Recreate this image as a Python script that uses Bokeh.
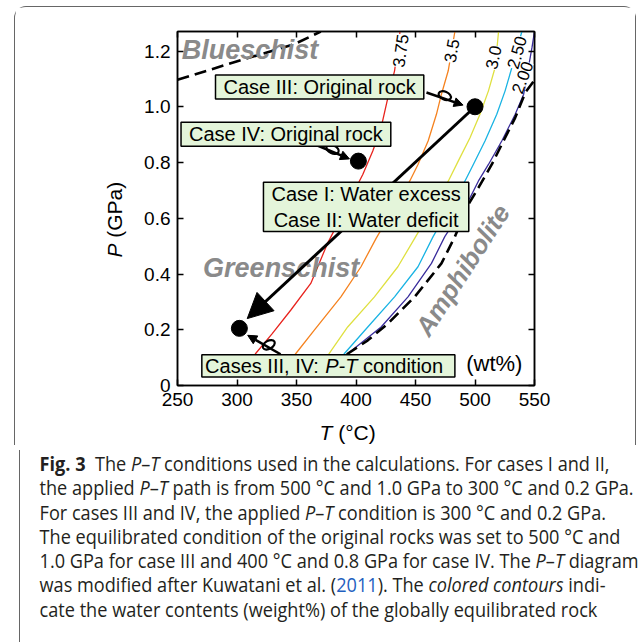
from bokeh.plotting import figure
from bokeh.models import (Label, Arrow, NormalHead, FixedTicker, LinearAxis,
                          BoxAnnotation, Div, Range1d)
from bokeh.layouts import column
from bokeh.embed import file_html
from bokeh.resources import INLINE

# ---------------- data ----------------
T_ticks = [250, 300, 350, 400, 450, 500, 550]
T_tick_labels = ["250", "300", "350", "400", "450", "500", "550"]
P_ticks = [0, 0.2, 0.4, 0.6, 0.8, 1.0, 1.2]
P_tick_labels = ["0", "0.2", "0.4", "0.6", "0.8", "1.0", "1.2"]

# water-content contours (wt%)
red_T = [437.0, 432.4, 426.8, 421.1, 414.1, 405.7, 376.1, 362.0, 345.1, 329.6, 315.5, 309.0]
red_P = [1.27, 1.129, 1.033, 0.925, 0.841, 0.757, 0.510, 0.366, 0.270, 0.186, 0.114, 0.07]
orange_T = [483.1, 477.5, 471.8, 467.6, 460.6, 452.1, 445.1, 416.9, 404.2, 387.3, 364.8, 349.3, 342.0]
orange_P = [1.27, 1.129, 1.045, 0.973, 0.877, 0.793, 0.733, 0.528, 0.426, 0.318, 0.198, 0.114, 0.07]
yellow_T = [519.8, 516.9, 511.3, 504.2, 495.8, 485.9, 477.5, 449.3, 435.2, 415.5, 393.0, 377.4, 370.0]
yellow_P = [1.27, 1.141, 1.057, 0.973, 0.889, 0.805, 0.733, 0.528, 0.426, 0.318, 0.21, 0.114, 0.07]
cyan_T = [539.4, 531.0, 525.3, 518.3, 508.4, 498.6, 491.5, 464.8, 452.1, 432.4, 409.9, 390.1, 385.0]
cyan_P = [1.27, 1.141, 1.057, 0.973, 0.877, 0.793, 0.733, 0.534, 0.426, 0.318, 0.21, 0.114, 0.07]
indigo_T = [550.0, 547.9, 540.9, 533.8, 522.5, 511.3, 502.8, 495.8, 474.6, 463.4, 443.7, 421.1, 393.0, 387.0]
indigo_P = [1.27, 1.213, 1.045, 0.973, 0.877, 0.793, 0.733, 0.673, 0.534, 0.438, 0.318, 0.21, 0.114, 0.07]

contour_values = ["3.75", "3.5", "3.0", "2.50", "2.00"]
contour_colors = ["#e8231d", "#f5821f", "#dfe040", "#19b3e3", "#3a2d9c"]
contour_label_T = [437.5, 480.3, 515.5, 535.2, 539.8]
contour_label_P = [1.201, 1.201, 1.177, 1.195, 1.105]
contour_label_angle = [82, 80, 77, 74, 70]

# facies boundaries (dashed)
amph_T = [549.0, 542.3, 533.8, 525.3, 514.1, 502.8, 494.4, 483.1, 471.8, 449.3, 426.8, 409.9, 393.0, 388.0]
amph_P = [1.09, 1.051, 0.961, 0.889, 0.793, 0.709, 0.649, 0.534, 0.438, 0.318, 0.222, 0.162, 0.114, 0.08]
blue_T = [250.0, 305.6, 347.9, 370.4]
blue_P = [1.097, 1.17, 1.224, 1.27]

# P-T points: case III original, case IV original, applied condition
point_T = [500, 402, 302]
point_P = [1.0, 0.805, 0.205]

# ---------------- figure ----------------
p = figure(frame_width=355, frame_height=353,
           x_range=Range1d(250, 550), y_range=Range1d(0, 1.27),
           output_backend="svg", toolbar_location=None,
           min_border_left=162, min_border_right=103,
           min_border_top=24, min_border_bottom=61,
           background_fill_color="white", border_fill_color="white",
           styles={"border-top": "1.5px solid #666", "border-left": "1.5px solid #666",
                   "border-right": "1.5px solid #666",
                   "border-radius": "12px 12px 0 0"})
p.grid.visible = False
p.outline_line_color = "black"
p.outline_line_width = 1.5

def style_axis(ax, ticks, labels):
    ax.ticker = FixedTicker(ticks=ticks)
    ax.major_label_overrides = dict(zip(ticks, labels))
    ax.major_tick_in = 6
    ax.major_tick_out = 0
    ax.minor_tick_line_color = None
    ax.axis_line_width = 1.5
    ax.major_tick_line_width = 1.5
    ax.major_label_text_font = "Liberation Sans"
    ax.major_label_text_font_size = "19px"
    ax.major_label_text_color = "black"
    ax.major_label_standoff = 7

style_axis(p.xaxis[0], T_ticks, T_tick_labels)
style_axis(p.yaxis[0], P_ticks, P_tick_labels)
top_ax = LinearAxis()
style_axis(top_ax, T_ticks, [""] * len(T_ticks))
right_ax = LinearAxis()
style_axis(right_ax, P_ticks, [""] * len(P_ticks))
p.add_layout(top_ax, "above")
p.add_layout(right_ax, "right")

# contours
for xs, ys, c in zip([red_T, orange_T, yellow_T, cyan_T, indigo_T],
                     [red_P, orange_P, yellow_P, cyan_P, indigo_P], contour_colors):
    p.line(xs, ys, line_color=c, line_width=1.3)

p.line(amph_T, amph_P, line_color="black", line_width=2.6, line_dash="12 6")
p.line(blue_T, blue_P, line_color="black", line_width=2.6, line_dash="12 6")

for t, pp, txt, ang in zip(contour_label_T, contour_label_P, contour_values, contour_label_angle):
    p.add_layout(Label(x=t, y=pp, text=txt, angle=ang, angle_units="deg",
                       text_align="center", text_baseline="middle",
                       text_font="Liberation Sans", text_font_size="17px",
                       text_color="black", background_fill_color="white"))

# facies names
gray = "#8a8a8a"
p.add_layout(Label(x=253.6, y=1.204, text="Blueschist", text_align="left",
                   text_baseline="alphabetic", text_font="Liberation Sans",
                   text_font_size="27px", text_font_style="bold italic", text_color=gray))
p.add_layout(Label(x=271.5, y=0.422, text="Greenschist", text_align="left",
                   text_baseline="alphabetic", text_font="Liberation Sans",
                   text_font_size="27px", text_font_style="bold italic", text_color=gray))
p.add_layout(Label(x=489.6, y=0.414, text="Amphibolite", text_align="center",
                   text_baseline="middle", angle=57, angle_units="deg",
                   text_font="Liberation Sans",
                   text_font_size="26px", text_font_style="bold italic", text_color=gray))

# points
p.scatter(point_T, point_P, size=16, color="black")

# curly arrows: loops
loop_T = [474.6, 380.3, 326.7]
loop_P = [1.040, 0.847, 0.146]
loop_angle = [-0.4, -0.4, 0.52]
p.ellipse(x=loop_T, y=loop_P, width=13, height=8, width_units="screen",
          height_units="screen", angle=loop_angle, fill_color=None,
          line_color="black", line_width=2.2)

# arrows
p.add_layout(Arrow(end=NormalHead(size=25, fill_color="black", line_color="black"),
                   x_start=500, y_start=1.0, x_end=308.6, y_end=0.24,
                   line_width=3, line_color="black"))
for xs, ys, xe, ye in [(459.2, 1.051, 490.0, 1.006),
                       (367.6, 0.861, 394.5, 0.813),
                       (336.6, 0.112, 309.0, 0.180)]:
    p.add_layout(Arrow(end=NormalHead(size=9, fill_color="black", line_color="black"),
                       x_start=xs, y_start=ys, x_end=xe, y_end=ye,
                       line_width=2.5, line_color="black"))

# boxes
box_fill = "#e4f5da"
pad = dict(left=8, right=8, top=1, bottom=1)
for t, pp, txt in [(369.45, 1.0706, "Case III: Original rock"),
                   (341.1, 0.9014, "Case IV: Original rock"),
                   (408.5, 0.6409, "Case I: Water excess\nCase II: Water deficit")]:
    p.add_layout(Label(x=t, y=pp, text=txt, text_align="center", text_baseline="middle",
                       text_font="Liberation Sans", text_font_size="20px",
                       text_color="black", text_line_height=1.15,
                       background_fill_color=box_fill, border_line_color="black",
                       border_line_width=1.5, padding=pad))

p.add_layout(BoxAnnotation(left=270.45, right=483.1, bottom=0.0302, top=0.1105,
                           fill_color=box_fill, fill_alpha=1.0,
                           line_color="black", line_width=1.5, line_alpha=1.0))
for txt, off, style in [("Cases III, IV:", 0, "normal"), ("P-T", 120.1, "italic"),
                        ("condition", 157.9, "normal")]:
    p.add_layout(Label(x=273.2, y=0.0703, x_offset=off, text=txt, text_align="left",
                       text_baseline="middle", text_font="Liberation Sans",
                       text_font_size="20px", text_font_style=style, text_color="black"))

p.add_layout(Label(x=516.2, y=0.079, text="(wt%)", text_align="center",
                   text_baseline="middle", text_font="Liberation Sans",
                   text_font_size="22px", text_color="black"))

# axis titles: labels placed in a side panel (so they are not clipped to the frame),
# positioned through the data scales
for txt, x, y, xo, yo, ang, style in [("T", 369.4, -0.1674, 0, 0, 0, "italic"),
                                      ("(°C)", 369.4, -0.1674, 18.6, 0, 0, "normal"),
                                      ("P", 197.2, 0.459, 0, 0, 90, "italic"),
                                      ("(GPa)", 197.2, 0.459, 0, 19.8, 90, "normal")]:
    p.add_layout(Label(x=x, y=y, x_offset=xo, y_offset=yo, text=txt,
                       angle=ang, angle_units="deg", text_align="left",
                       text_baseline="alphabetic", text_font="Liberation Sans",
                       text_font_size="21px", text_font_style=style, text_color="black"),
                 "left")

caption_html = (
    '<b>Fig.&nbsp;3</b>&nbsp; The <i>P</i>–<i>T</i> conditions used in the calculations. For cases I and II,<br>'
    'the applied <i>P</i>–<i>T</i> path is from 500 °C and 1.0 GPa to 300 °C and 0.2 GPa.<br>'
    'For cases III and IV, the applied <i>P</i>–<i>T</i> condition is 300 °C and 0.2 GPa.<br>'
    'The equilibrated condition of the original rocks was set to 500 °C and<br>'
    '1.0 GPa for case III and 400 °C and 0.8 GPa for case IV. The <i>P</i>–<i>T</i> diagram<br>'
    'was modified after Kuwatani et al. (<span style="color:#1f5fbf">2011</span>). '
    'The <i>colored contours</i> indi-<br>'
    'cate the water contents (weight%) of the globally equilibrated rock'
)
div = Div(text=('<div style="transform: scaleX(0.93); transform-origin: 0 0; '
                'white-space: nowrap; padding: 2px 0 0 21px;">' + caption_html + '</div>'),
          width=620, height=192,
          styles={"font-family": "'Open Sans', sans-serif",
                  "font-size": "19.5px", "line-height": "24.3px", "color": "#231f20",
                  "border-left": "1.5px solid #666", "border-right": "1.5px solid #666",
                  "overflow": "hidden"})

layout = column(p, div, styles={"margin": "6px 0 0 14px"})

open("out.html", "w").write(file_html(layout, INLINE))
